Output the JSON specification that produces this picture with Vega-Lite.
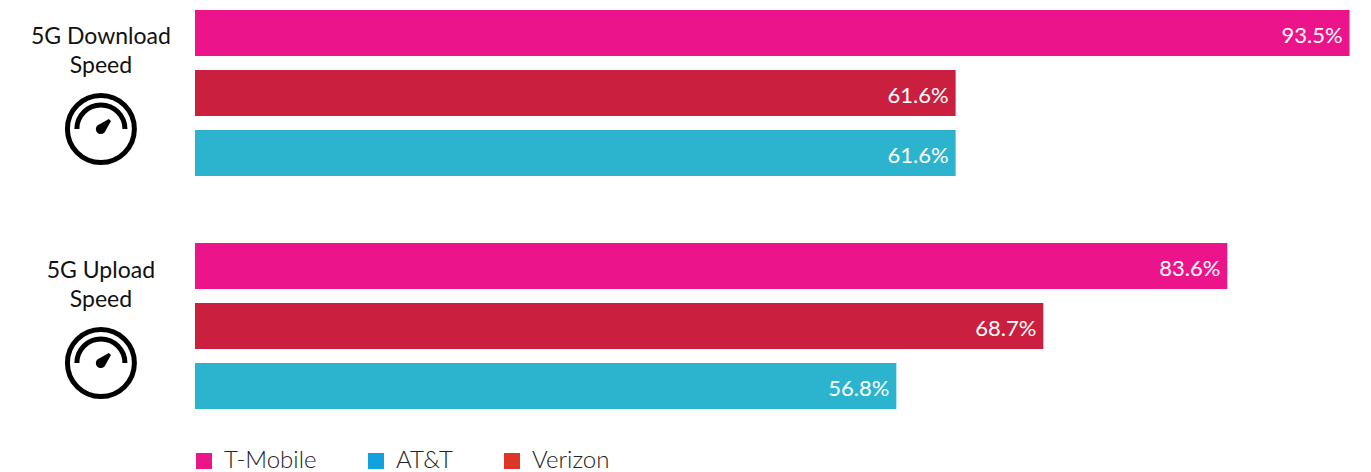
{"$schema":"https://vega.github.io/schema/vega-lite/v6.json","padding":{"left":0,"top":3,"right":0,"bottom":0},"background":"white","spacing":53,"config":{"view":{"stroke":null},"font":"Lato","concat":{"spacing":53}},"datasets":{"bars":[{"metric":"5G Download\nSpeed","carrier":"T-Mobile","share":0.935},{"metric":"5G Download\nSpeed","carrier":"Verizon","share":0.616},{"metric":"5G Download\nSpeed","carrier":"AT&T","share":0.616},{"metric":"5G Upload\nSpeed","carrier":"T-Mobile","share":0.836},{"metric":"5G Upload\nSpeed","carrier":"Verizon","share":0.687},{"metric":"5G Upload\nSpeed","carrier":"AT&T","share":0.568}]},"vconcat":[{"width":1371,"height":180,"data":{"name":"bars"},"transform":[{"filter":"datum.metric === '5G Download\\nSpeed'"}],"encoding":{"y":{"field":"carrier","type":"nominal","axis":null,"sort":["T-Mobile","Verizon","AT&T"],"scale":{"domain":["T-Mobile","Verizon","AT&T"],"paddingInner":0.2333,"paddingOuter":0.1167}}},"layer":[{"mark":{"type":"bar"},"encoding":{"x":{"field":"share","type":"quantitative","axis":null,"scale":{"domain":[-0.15792,0.95238],"nice":false,"zero":false}},"fill":{"field":"carrier","type":"nominal","legend":null,"scale":{"domain":["T-Mobile","Verizon","AT&T"],"range":["#EC148B","#CB1F3F","#2CB4CF"]}}}},{"mark":{"type":"text","align":"right","baseline":"middle","dx":-7,"dy":3,"fontSize":22,"fill":"white"},"encoding":{"x":{"field":"share","type":"quantitative"},"text":{"field":"share","type":"quantitative","format":".1%"}}},{"transform":[{"filter":"datum.carrier === 'T-Mobile'"}],"mark":{"type":"text","align":"center","baseline":"middle","yOffset":4,"lineBreak":"\n","lineHeight":29,"fontSize":23,"fontWeight":400,"fill":"#111111"},"encoding":{"x":{"datum":-0.0762,"type":"quantitative"},"text":{"field":"metric"}}},{"transform":[{"filter":"datum.carrier === 'Verizon'"}],"mark":{"type":"point","filled":false,"stroke":"black","strokeWidth":5,"opacity":1,"yOffset":36,"size":5184,"shape":"M-0.93,0A0.93,0.93,0,1,1,0.93,0A0.93,0.93,0,1,1,-0.93,0ZM-0.667,0A0.667,0.667,0,0,1,0.667,0"},"encoding":{"x":{"datum":-0.0762,"type":"quantitative"}}},{"transform":[{"filter":"datum.carrier === 'Verizon'"}],"mark":{"type":"point","filled":true,"fill":"black","opacity":1,"yOffset":36,"size":5184,"shape":"M-0.036,-0.135L0.22,-0.28L0.28,-0.22L0.135,0.036A0.14,0.14,0,1,1,-0.036,-0.135Z"},"encoding":{"x":{"datum":-0.0762,"type":"quantitative"}}}]},{"width":1371,"height":180,"data":{"name":"bars"},"transform":[{"filter":"datum.metric === '5G Upload\\nSpeed'"}],"encoding":{"y":{"field":"carrier","type":"nominal","axis":null,"sort":["T-Mobile","Verizon","AT&T"],"scale":{"domain":["T-Mobile","Verizon","AT&T"],"paddingInner":0.2333,"paddingOuter":0.1167}}},"layer":[{"mark":{"type":"bar"},"encoding":{"x":{"field":"share","type":"quantitative","axis":null,"scale":{"domain":[-0.15792,0.95238],"nice":false,"zero":false}},"fill":{"field":"carrier","type":"nominal","legend":null,"scale":{"domain":["T-Mobile","Verizon","AT&T"],"range":["#EC148B","#CB1F3F","#2CB4CF"]}}}},{"mark":{"type":"text","align":"right","baseline":"middle","dx":-7,"dy":3,"fontSize":22,"fill":"white"},"encoding":{"x":{"field":"share","type":"quantitative"},"text":{"field":"share","type":"quantitative","format":".1%"}}},{"transform":[{"filter":"datum.carrier === 'T-Mobile'"}],"mark":{"type":"text","align":"center","baseline":"middle","yOffset":5,"lineBreak":"\n","lineHeight":29,"fontSize":23,"fontWeight":400,"fill":"#111111"},"encoding":{"x":{"datum":-0.0762,"type":"quantitative"},"text":{"field":"metric"}}},{"transform":[{"filter":"datum.carrier === 'Verizon'"}],"mark":{"type":"point","filled":false,"stroke":"black","strokeWidth":5,"opacity":1,"yOffset":37,"size":5184,"shape":"M-0.93,0A0.93,0.93,0,1,1,0.93,0A0.93,0.93,0,1,1,-0.93,0ZM-0.667,0A0.667,0.667,0,0,1,0.667,0"},"encoding":{"x":{"datum":-0.0762,"type":"quantitative"}}},{"transform":[{"filter":"datum.carrier === 'Verizon'"}],"mark":{"type":"point","filled":true,"fill":"black","opacity":1,"yOffset":37,"size":5184,"shape":"M-0.036,-0.135L0.22,-0.28L0.28,-0.22L0.135,0.036A0.14,0.14,0,1,1,-0.036,-0.135Z"},"encoding":{"x":{"datum":-0.0762,"type":"quantitative"}}},{"mark":{"type":"point","filled":true,"size":0},"encoding":{"x":{"field":"share","type":"quantitative"},"color":{"field":"carrier","type":"nominal","scale":{"domain":["T-Mobile","AT&T","Verizon"],"range":["#EC148B","#11A1DD","#DD3629"]},"legend":{"title":null,"orient":"none","legendX":192,"legendY":446,"direction":"horizontal","columns":3,"gridAlign":"none","columnPadding":47,"symbolType":"square","symbolSize":256,"symbolStrokeWidth":0,"symbolOpacity":1,"labelFontSize":24,"labelFont":"Lato","labelFontWeight":300,"labelColor":"#222222","labelOffset":8,"padding":0}}}}]}]}
